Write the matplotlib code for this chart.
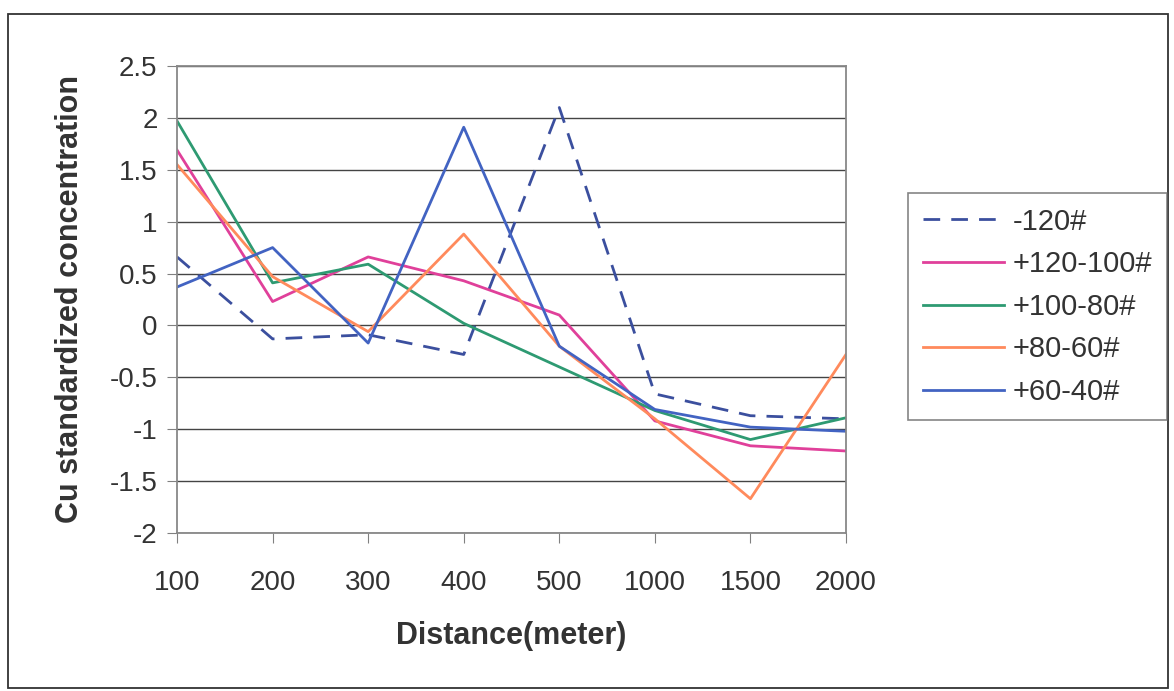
import matplotlib.pyplot as plt
from matplotlib.patches import Rectangle

plt.rcParams['font.family'] = ['Liberation Sans', 'DejaVu Sans']

# data
distance = ['100', '200', '300', '400', '500', '1000', '1500', '2000']
s_120 = [0.66, -0.13, -0.09, -0.28, 2.10, -0.66, -0.87, -0.90]
s_120_100 = [1.69, 0.23, 0.66, 0.43, 0.10, -0.92, -1.16, -1.21]
s_100_80 = [1.97, 0.41, 0.59, 0.02, -0.40, -0.82, -1.10, -0.89]
s_80_60 = [1.55, 0.47, -0.06, 0.88, -0.20, -0.90, -1.67, -0.28]
s_60_40 = [0.37, 0.75, -0.17, 1.91, -0.20, -0.81, -0.98, -1.02]

labels = ['-120#', '+120-100#', '+100-80#', '+80-60#', '+60-40#']
colors = ['#3B4F9E', '#E0409A', '#2E9A72', '#FF8A5C', '#4263C2']

fig = plt.figure(figsize=(11.74, 6.91), dpi=100)
ax = fig.add_axes([0.1508, 0.2287, 0.5698, 0.6758])

x = list(range(len(distance)))
series = [s_120, s_120_100, s_100_80, s_80_60, s_60_40]
for i, (ys, lab, c) in enumerate(zip(series, labels, colors)):
    ls = (0, (6, 4)) if i == 0 else '-'
    ax.plot(x, ys, linestyle=ls, color=c, lw=2, label=lab)

ax.set_xlim(0, len(distance) - 1)
ax.set_ylim(-2, 2.5)
ax.set_xticks(x)
ax.set_xticklabels(distance, fontsize=20, color='#333333')
ax.set_yticks([-2, -1.5, -1, -0.5, 0, 0.5, 1, 1.5, 2, 2.5])
ax.set_yticklabels(['-2', '-1.5', '-1', '-0.5', '0', '0.5', '1', '1.5', '2', '2.5'],
                   fontsize=20, color='#333333')
ax.tick_params(axis='x', length=7, pad=20, color='#808080')
ax.tick_params(axis='y', length=7, pad=7, color='#808080')
ax.grid(axis='y', color='#444444', lw=1)
ax.set_axisbelow(True)
for sp in ax.spines.values():
    sp.set_color('#888888')
    sp.set_linewidth(1.3)

ax.set_ylabel('Cu standardized concentration', fontsize=22, fontweight='bold',
              labelpad=18, color='#333333')
ax.set_xlabel('Distance(meter)', fontsize=22, fontweight='bold', labelpad=18,
              color='#333333')

leg = fig.legend(loc='upper left', bbox_to_anchor=(908 / 1174, 1 - 193 / 691),
                 fontsize=21, frameon=True, fancybox=False, edgecolor='#666666',
                 handlelength=2.8, handletextpad=0.3, labelspacing=0.5,
                 borderpad=0.5, borderaxespad=0)
leg.get_frame().set_linewidth(1.2)
for t in leg.get_texts():
    t.set_color('#333333')

# outer chart border
fig.patches.append(Rectangle((8 / 1174, 1 - 688 / 691), 1160 / 1174, 674 / 691,
                             transform=fig.transFigure, fill=False,
                             edgecolor='#333333', lw=1.3))

fig.savefig('out.png', dpi=100)
